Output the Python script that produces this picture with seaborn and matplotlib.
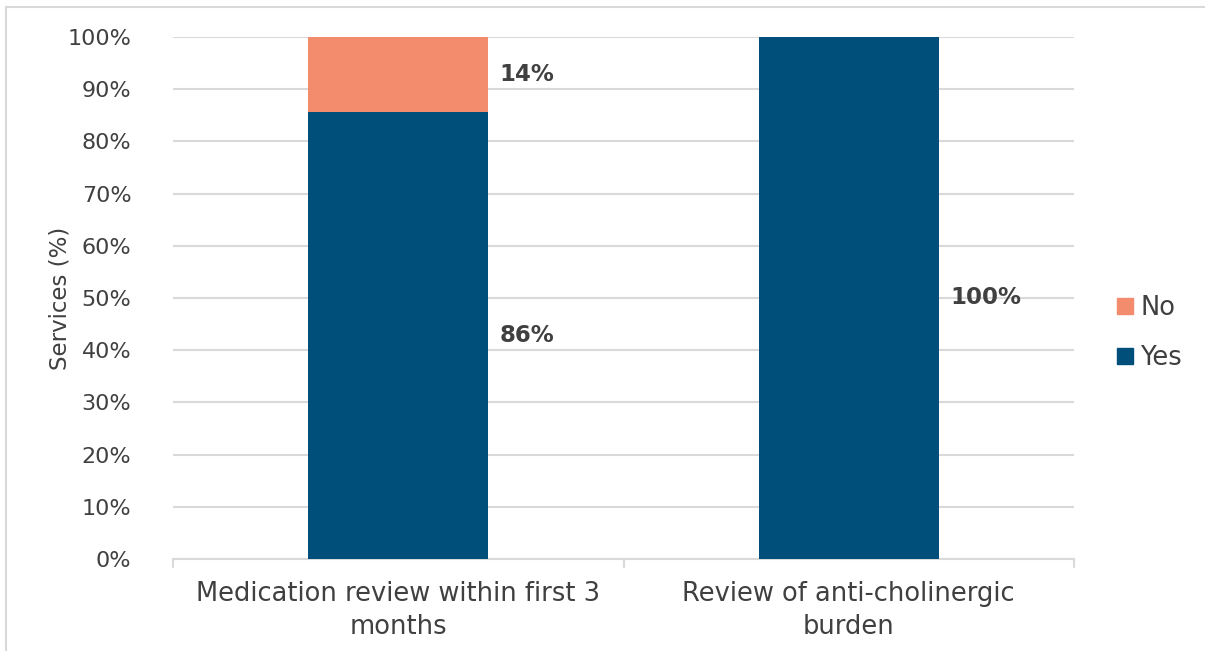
import matplotlib.pyplot as plt
import matplotlib.lines as mlines
import matplotlib.patches as mpatches
import seaborn as sns
import pandas as pd

categories = ["Medication review within first 3\nmonths", "Review of anti-cholinergic\nburden"]
yes_pct = [85.7, 100.0]
no_pct = [14.3, 0.0]
yes_labels = ["86%", "100%"]
no_labels = ["14%", ""]

yes_col = "#004F7B"
no_col = "#F28C6C"
txt_col = "#404040"
grid_col = "#D9D9D9"

sns.set_theme(style="white")
plt.rcParams["font.family"] = ["DejaVu Sans"]

df = pd.DataFrame({"cat": categories, "yes": yes_pct, "no": no_pct})
df["total"] = df["yes"] + df["no"]

W, H = 1205, 651
fig = plt.figure(figsize=(W / 100, H / 100), dpi=100)
ax = fig.add_axes([173 / W, 1 - 559 / H, (1074 - 173) / W, (559 - 37) / H])

# stacked: draw total in "No" colour, then "Yes" on top of it
sns.barplot(data=df, x="cat", y="total", color=no_col, width=0.4, saturation=1,
            linewidth=0, ax=ax, zorder=2)
sns.barplot(data=df, x="cat", y="yes", color=yes_col, width=0.4, saturation=1,
            linewidth=0, ax=ax, zorder=3)

ax.set_ylim(0, 100)
ax.set_xlim(-0.5, 1.5)
ax.set_yticks(range(0, 101, 10))
ax.set_yticklabels([f"{v}%" for v in range(0, 101, 10)], fontsize=16, color=txt_col)
ax.set_xticks([0, 1])
ax.set_xticklabels(categories, fontsize=18.5, color=txt_col, linespacing=1.35)
ax.tick_params(axis="y", length=0, pad=30)
ax.tick_params(axis="x", length=0, pad=16)
ax.yaxis.grid(True, color=grid_col, linewidth=1.5, zorder=0)
ax.set_axisbelow(True)
ax.set_xlabel("")
ax.set_ylabel("Services (%)", fontsize=16.5, color=txt_col, labelpad=-3)
for s in ["top", "right", "left"]:
    ax.spines[s].set_visible(False)
ax.spines["bottom"].set_color(grid_col)
ax.spines["bottom"].set_linewidth(1.5)

# category separator ticks
for xb in [-0.5, 0.5, 1.5]:
    ax.plot([xb, xb], [0, -1.6], color=grid_col, lw=1.5, clip_on=False, zorder=1)

# value labels to the right of bars
for i in range(len(categories)):
    xr = i + 0.2 + 0.025
    ax.text(xr, yes_pct[i] / 2, yes_labels[i], fontsize=16.5, fontweight="bold",
            color=txt_col, va="center", ha="left", zorder=4)
    if no_pct[i] > 0:
        ax.text(xr, yes_pct[i] + no_pct[i] / 2, no_labels[i], fontsize=16.5, fontweight="bold",
                color=txt_col, va="center", ha="left", zorder=4)

handles = [mpatches.Patch(color=no_col, label="No"), mpatches.Patch(color=yes_col, label="Yes")]
fig.legend(handles=handles, loc="center left", bbox_to_anchor=(1094 / W, 1 - 333 / H),
           frameon=False, fontsize=18.5, handlelength=0.6, handleheight=0.6,
           handletextpad=0.3, labelspacing=0.95, labelcolor=txt_col)

# outer chart border (top and left visible)
fig.add_artist(mlines.Line2D([6 / W, 1], [1 - 7 / H, 1 - 7 / H], color=grid_col, lw=1.5))
fig.add_artist(mlines.Line2D([6 / W, 6 / W], [0, 1 - 7 / H], color=grid_col, lw=1.5))

fig.savefig("out.png", dpi=100, facecolor="white")
